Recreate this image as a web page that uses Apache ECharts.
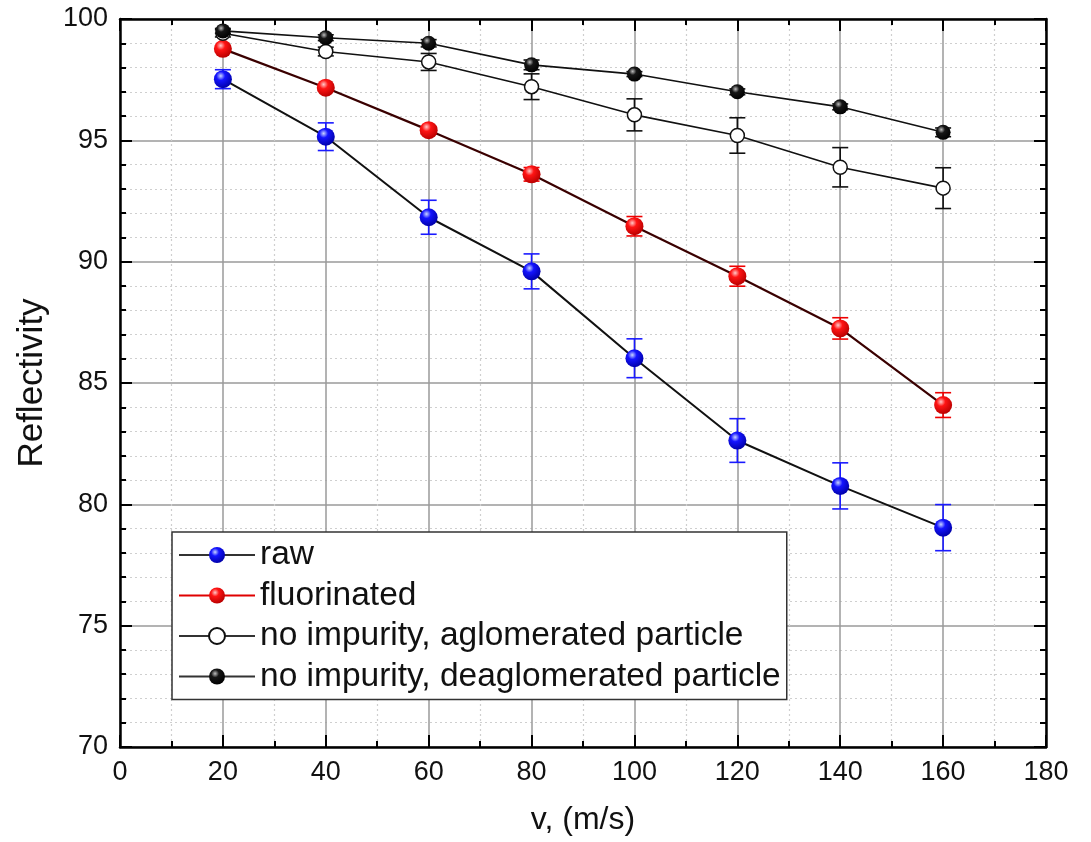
<!DOCTYPE html>
<html>
<head>
<meta charset="utf-8">
<script src="https://cdn.jsdelivr.net/npm/echarts@6/dist/echarts.min.js"></script>
<style>html,body{margin:0;padding:0;background:#fff}#c{width:1091px;height:842px}</style>
</head>
<body>
<div id="c"></div>
<script>
const velocities = [20, 40, 60, 80, 100, 120, 140, 160];
const rawVals = [97.52, 95.15, 91.83, 89.6, 86.02, 82.63, 80.76, 79.04];
const rawErr = [0.39, 0.57, 0.7, 0.72, 0.8, 0.9, 0.95, 0.95];
const fluorVals = [98.77, 97.17, 95.42, 93.6, 91.46, 89.4, 87.25, 84.09];
const fluorErr = [0.12, 0.12, 0.15, 0.28, 0.4, 0.41, 0.44, 0.51];
const aglomVals = [99.41, 98.66, 98.23, 97.21, 96.05, 95.2, 93.89, 93.03];
const aglomErr = [0.15, 0.18, 0.35, 0.53, 0.66, 0.73, 0.81, 0.84];
const deaglomVals = [99.51, 99.23, 99.0, 98.11, 97.73, 97.0, 96.38, 95.33];
const deaglomErr = [0.1, 0.12, 0.15, 0.2, 0.1, 0.12, 0.12, 0.18];
const seriesNames = ['raw', 'fluorinated', 'no impurity, aglomerated particle', 'no impurity, deaglomerated particle'];

const FONT = '"Liberation Sans", Arial, sans-serif';

function sphere(hi, mid, dark) {
  return {type: 'radial', x: 0.38, y: 0.32, r: 0.7,
    colorStops: [{offset: 0, color: hi}, {offset: 0.35, color: mid}, {offset: 1, color: dark}]};
}
const blueFill = sphere('#c8d4ff', '#1414ff', '#0000a8');
const redFill = sphere('#ffc8c8', '#ff1414', '#b80000');
const blackFill = sphere('#bdbdbd', '#161616', '#000000');

function pts(vals) { return velocities.map((x, i) => [x, vals[i]]); }
function errs(vals, e) { return velocities.map((x, i) => [x, vals[i] - e[i], vals[i] + e[i]]); }

function errSeries(vals, e, color, cap) {
  return {
    type: 'custom', z: 2, silent: true,
    xAxisIndex: 0, yAxisIndex: 0,
    data: errs(vals, e),
    encode: {x: 0, y: [1, 2]},
    renderItem: function (params, api) {
      const x = api.value(0), lo = api.value(1), hi = api.value(2);
      const p1 = api.coord([x, lo]), p2 = api.coord([x, hi]);
      const st = {stroke: color, lineWidth: 1.6};
      return {type: 'group', children: [
        {type: 'line', shape: {x1: p1[0], y1: p1[1], x2: p2[0], y2: p2[1]}, style: st},
        {type: 'line', shape: {x1: p1[0] - cap, y1: p1[1], x2: p1[0] + cap, y2: p1[1]}, style: st},
        {type: 'line', shape: {x1: p2[0] - cap, y1: p2[1], x2: p2[0] + cap, y2: p2[1]}, style: st}
      ]};
    }
  };
}

const axisCommon = {
  axisLine: {show: true, onZero: false, lineStyle: {color: '#000', width: 2.5}},
  axisTick: {show: true, inside: true, length: 12, lineStyle: {color: '#000', width: 2}},
  minorTick: {show: true, length: 6, lineStyle: {color: '#000', width: 2}},
};

const chart = echarts.init(document.getElementById('c'), null, {renderer: 'canvas'});
chart.setOption({
  animation: false,
  backgroundColor: '#fff',
  grid: {left: 120, top: 19, right: 45, bottom: 95, containLabel: false},
  legend: {
    orient: 'vertical', left: 172, top: 532,
    padding: [5, 6, 5, 6],
    itemWidth: 76, itemHeight: 20, itemGap: 4.5,
    backgroundColor: '#fff', borderColor: '#333', borderWidth: 1.5, borderRadius: 0,
    textStyle: {fontFamily: FONT, fontSize: 33.5, color: '#111', lineHeight: 36},
    data: [
      {name: seriesNames[0], lineStyle: {color: '#333'}},
      {name: seriesNames[1], lineStyle: {color: '#e00000'}},
      {name: seriesNames[2], lineStyle: {color: '#333'}},
      {name: seriesNames[3], lineStyle: {color: '#333'}}
    ]
  },
  xAxis: [
    Object.assign({}, axisCommon, {
      type: 'value', min: 0, max: 180, interval: 20, position: 'bottom',
      name: 'v, (m/s)', nameLocation: 'middle', nameGap: 57,
      nameTextStyle: {fontFamily: FONT, fontSize: 32, color: '#111'},
      minorTick: Object.assign({}, axisCommon.minorTick, {splitNumber: 2}),
      axisLabel: {margin: 12, fontFamily: FONT, fontSize: 27, color: '#111'},
      splitLine: {show: true, lineStyle: {color: '#9a9a9a', width: 1.5}},
      minorSplitLine: {show: true, lineStyle: {color: '#cfcfcf', width: 1.2, type: [2, 3]}}
    }),
    Object.assign({}, axisCommon, {
      type: 'value', min: 0, max: 180, interval: 20, position: 'top',
      minorTick: Object.assign({}, axisCommon.minorTick, {splitNumber: 2}),
      axisLabel: {show: false}, splitLine: {show: false}
    })
  ],
  yAxis: [
    Object.assign({}, axisCommon, {
      type: 'value', min: 70, max: 100, interval: 5, position: 'left',
      name: 'Reflectivity', nameLocation: 'middle', nameGap: 70,
      nameTextStyle: {fontFamily: FONT, fontSize: 35, color: '#111'},
      minorTick: Object.assign({}, axisCommon.minorTick, {splitNumber: 5}),
      axisLabel: {margin: 12, fontFamily: FONT, fontSize: 27, color: '#111'},
      splitLine: {show: true, lineStyle: {color: '#9a9a9a', width: 1.5}},
      minorSplitLine: {show: true, lineStyle: {color: '#cfcfcf', width: 1.2, type: [2, 3]}}
    }),
    Object.assign({}, axisCommon, {
      type: 'value', min: 70, max: 100, interval: 5, position: 'right',
      minorTick: Object.assign({}, axisCommon.minorTick, {splitNumber: 5}),
      axisLabel: {show: false}, splitLine: {show: false}
    })
  ],
  series: [
    errSeries(rawVals, rawErr, '#1a1aff', 8),
    errSeries(fluorVals, fluorErr, '#ee0000', 8),
    errSeries(aglomVals, aglomErr, '#111', 8),
    errSeries(deaglomVals, deaglomErr, '#111', 8),
    {
      name: seriesNames[0], type: 'line', z: 3, data: pts(rawVals),
      symbol: 'circle', symbolSize: 18,
      lineStyle: {color: '#111', width: 2},
      itemStyle: {color: blueFill, borderWidth: 0}
    },
    {
      name: seriesNames[1], type: 'line', z: 3, data: pts(fluorVals),
      symbol: 'circle', symbolSize: 18,
      lineStyle: {color: '#3a0000', width: 2.2},
      itemStyle: {color: redFill, borderWidth: 0}
    },
    {
      name: seriesNames[2], type: 'line', z: 3, data: pts(aglomVals),
      symbol: 'circle', symbolSize: 14,
      lineStyle: {color: '#111', width: 1.6},
      itemStyle: {color: '#fff', borderColor: '#111', borderWidth: 1.5}
    },
    {
      name: seriesNames[3], type: 'line', z: 3, data: pts(deaglomVals),
      symbol: 'circle', symbolSize: 15,
      lineStyle: {color: '#111', width: 1.6},
      itemStyle: {color: blackFill, borderWidth: 0}
    }
  ]
});
</script>
</body>
</html>
